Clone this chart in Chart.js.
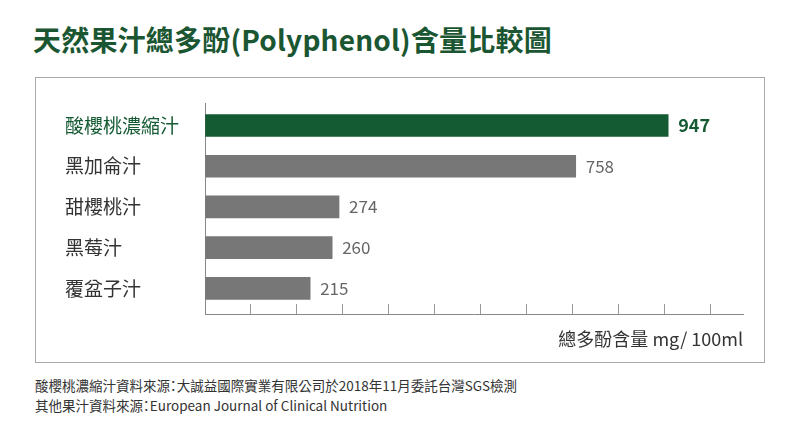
<!DOCTYPE html>
<html>
<head>
<meta charset="utf-8">
<script src="https://cdn.jsdelivr.net/npm/chart.js@4/dist/chart.umd.min.js"></script>
<style>
  html, body { margin: 0; padding: 0; background: #fff; }
  body { width: 800px; height: 427px; position: relative; overflow: hidden;
         font-family: "Noto Sans CJK TC", "Noto Sans", sans-serif; }
  #title { position: absolute; left: 33px; top: 24px; font-size: 28px; line-height: 30px;
           font-weight: bold; color: #1b5632; white-space: nowrap; letter-spacing: 0.2px; }
  #box { position: absolute; left: 35px; top: 77px; width: 728px; height: 284px;
         border: 1px solid #aaaaaa; }
  #wrap { position: absolute; left: 0; top: 0; width: 728px; height: 284px; }
  .note { position: absolute; left: 35px; font-size: 13.5px; line-height: 16px; color: #333;
          white-space: nowrap; font-feature-settings: "palt"; }
</style>
</head>
<body>
<div id="title">天然果汁總多酚(Polyphenol)含量比較圖</div>
<div id="box"><div id="wrap"><canvas id="c"></canvas></div></div>
<div class="note" style="top:377px">酸櫻桃濃縮汁資料來源：大誠益國際實業有限公司於2018年11月委託台灣SGS檢測</div>
<div class="note" style="top:397px">其他果汁資料來源：European Journal of Clinical Nutrition</div>
<script>
const categories = ["酸櫻桃濃縮汁", "黑加侖汁", "甜櫻桃汁", "黑莓汁", "覆盆子汁"];
const values = [947, 758, 274, 260, 215];
const axisTitle = "總多酚含量 mg/ 100ml";

const GREEN = "#145a32";
const GRAY = "#777777";
const FONT = '"Noto Sans CJK TC", "Noto Sans", sans-serif';

const valueLabels = {
  id: "valueLabels",
  afterDatasetsDraw(chart) {
    const ctx = chart.ctx;
    const meta = chart.getDatasetMeta(0);
    ctx.save();
    ctx.textBaseline = "middle";
    ctx.textAlign = "left";
    meta.data.forEach((bar, i) => {
      if (i === 0) {
        ctx.font = "bold 18px " + FONT;
        ctx.fillStyle = GREEN;
      } else {
        ctx.font = "17px " + FONT;
        ctx.fillStyle = "#666666";
      }
      ctx.fillText(String(values[i]), bar.x + 10, bar.y);
    });
    ctx.restore();
  }
};

new Chart(document.getElementById("c"), {
  type: "bar",
  data: {
    datasets: [{
      data: values.map((v, i) => ({ x: v, y: i })),
      backgroundColor: (c) => c.dataIndex === 0 ? GREEN : GRAY,
      barThickness: 22,
      borderWidth: 0
    }]
  },
  options: {
    indexAxis: "y",
    responsive: true,
    maintainAspectRatio: false,
    animation: false,
    layout: { padding: { left: 29, top: 25, right: 21, bottom: 0 } },
    plugins: { legend: { display: false }, tooltip: { enabled: false } },
    scales: {
      y: {
        type: "linear",
        reverse: true,
        offset: false,
        bounds: "data",
        min: -0.553,
        max: 4.631,
        afterBuildTicks: (s) => { s.ticks = categories.map((_, i) => ({ value: i })); },
        afterFit: (s) => { s.width = 140; },
        grid: { offset: false, drawOnChartArea: false, drawTicks: false },
        border: { display: true, color: "#888888", width: 1 },
        ticks: {
          crossAlign: "far",
          padding: 0,
          font: { family: FONT, size: 19 },
          color: (c) => c.index === 0 ? GREEN : "#333333",
          callback: (v) => categories[v]
        }
      },
      x: {
        type: "linear",
        min: 0,
        max: 1100,
        bounds: "data",
        afterBuildTicks: (s) => {
          const t = [];
          for (let v = 0; v <= 1100; v += 94) t.push({ value: v });
          s.ticks = t;
        },
        afterFit: (s) => { s.height = 48; },
        grid: { drawOnChartArea: false, drawTicks: true, tickLength: -10, color: "#999999", lineWidth: 1 },
        border: { display: true, color: "#888888", width: 1 },
        ticks: { display: false },
        title: {
          display: true,
          text: axisTitle,
          align: "end",
          color: "#333333",
          font: { family: FONT, size: 18 },
          padding: { top: 4, bottom: 12 }
        }
      }
    }
  },
  plugins: [valueLabels]
});
</script>
</body>
</html>
